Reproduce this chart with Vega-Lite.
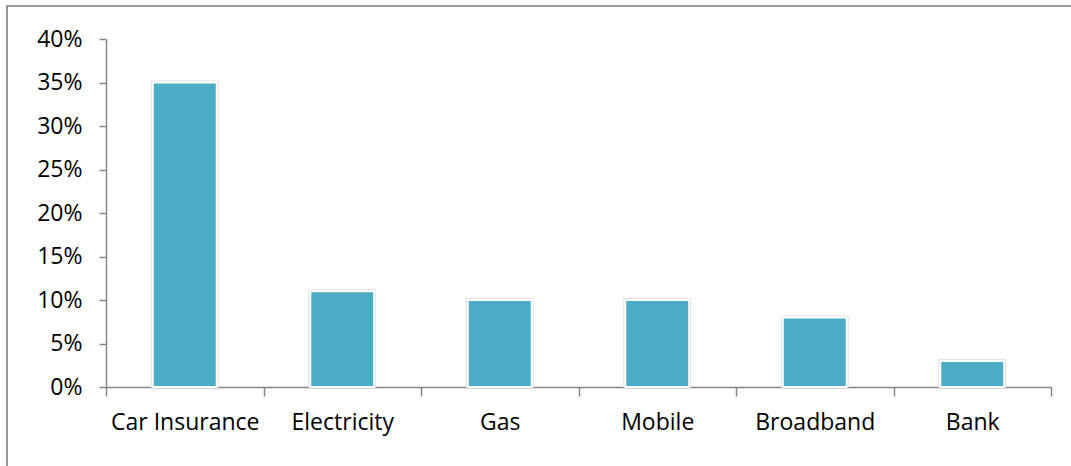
{
  "$schema": "https://vega.github.io/schema/vega-lite/v6.json",
  "autosize": "none",
  "padding": {"left": 7, "top": 6, "right": -4, "bottom": -4},
  "width": 1068,
  "height": 464,
  "background": "white",
  "config": {
    "view": {"stroke": "#7a7a7a", "strokeWidth": 1.5},
    "font": "Open Sans"
  },
  "data": {
    "values": [
      {"category": "Car Insurance", "share": 0.35},
      {"category": "Electricity", "share": 0.11},
      {"category": "Gas", "share": 0.10},
      {"category": "Mobile", "share": 0.10},
      {"category": "Broadband", "share": 0.08},
      {"category": "Bank", "share": 0.03}
    ]
  },
  "encoding": {
    "x": {
      "field": "category",
      "type": "nominal",
      "sort": null,
      "scale": {"range": [99, 1044], "paddingInner": 0, "paddingOuter": 0},
      "axis": {
        "title": null,
        "orient": "bottom",
        "offset": -83,
        "tickBand": "extent",
        "labelAngle": 0,
        "labelFont": "Open Sans",
        "labelFontSize": 23,
        "labelColor": "#000000",
        "labelPadding": 15,
        "tickSize": 9,
        "tickColor": "#868686",
        "tickWidth": 1.5,
        "domainColor": "#868686",
        "domainWidth": 1.5
      }
    },
    "y": {
      "field": "share",
      "type": "quantitative",
      "scale": {"domain": [0, 0.4], "range": [381, 33], "nice": false},
      "axis": {
        "title": null,
        "offset": -99,
        "values": [0, 0.05, 0.1, 0.15, 0.2, 0.25, 0.3, 0.35, 0.4],
        "format": ".0%",
        "grid": false,
        "labelFont": "Open Sans",
        "labelFontSize": 23,
        "labelColor": "#000000",
        "labelPadding": 17,
        "tickSize": 7,
        "tickColor": "#868686",
        "tickWidth": 1.5,
        "domainColor": "#868686",
        "domainWidth": 1.5
      }
    }
  },
  "layer": [
    {
      "mark": {"type": "bar", "width": {"band": 0.406}, "fill": "#4BACC6", "stroke": "#d4d4d4", "strokeWidth": 4, "strokeOpacity": 0.7}
    },
    {
      "mark": {"type": "bar", "width": {"band": 0.406}, "fill": "#4BACC6", "stroke": "#ffffff", "strokeWidth": 2}
    }
  ]
}
